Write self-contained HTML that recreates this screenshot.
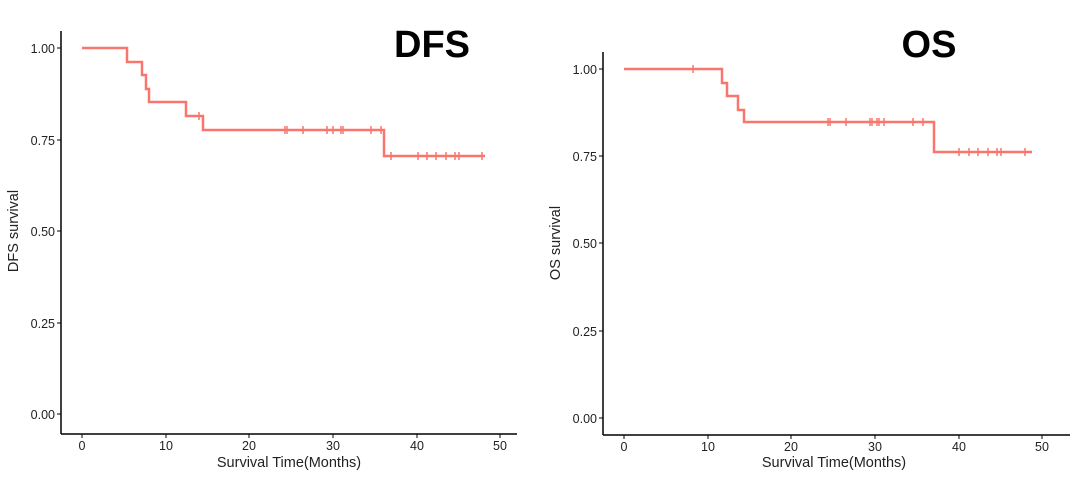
<!DOCTYPE html>
<html><head><style>
body{margin:0;background:#fff;}
svg text{font-family:"Liberation Sans",sans-serif;}
</style></head><body>
<svg width="1080" height="477" viewBox="0 0 1080 477" xmlns="http://www.w3.org/2000/svg">
<!-- DFS panel -->
<g>
  <line x1="61" y1="31" x2="61" y2="434" stroke="#000" stroke-width="1.5"/>
  <line x1="61" y1="434" x2="517" y2="434" stroke="#000" stroke-width="1.5"/>
  <g stroke="#000" stroke-width="1">
    <line x1="57" y1="48" x2="61" y2="48"/><line x1="57" y1="140" x2="61" y2="140"/>
    <line x1="57" y1="231" x2="61" y2="231"/><line x1="57" y1="323" x2="61" y2="323"/>
    <line x1="57" y1="414" x2="61" y2="414"/>
    <line x1="82" y1="434" x2="82" y2="438"/><line x1="166" y1="434" x2="166" y2="438"/>
    <line x1="249" y1="434" x2="249" y2="438"/><line x1="333" y1="434" x2="333" y2="438"/>
    <line x1="417" y1="434" x2="417" y2="438"/><line x1="500" y1="434" x2="500" y2="438"/>
  </g>
  <g font-size="12.5" fill="#222" text-anchor="end">
    <text x="55" y="53">1.00</text><text x="55" y="145">0.75</text><text x="55" y="236">0.50</text>
    <text x="55" y="328">0.25</text><text x="55" y="419">0.00</text>
  </g>
  <g font-size="12.5" fill="#222" text-anchor="middle">
    <text x="82" y="450">0</text><text x="166" y="450">10</text><text x="249" y="450">20</text>
    <text x="333" y="450">30</text><text x="417" y="450">40</text><text x="500" y="450">50</text>
  </g>
  <text x="289" y="467" font-size="14.5" text-anchor="middle" fill="#222">Survival Time(Months)</text>
  <text transform="translate(18,231) rotate(-90)" font-size="14.5" text-anchor="middle" fill="#222">DFS survival</text>
  <text x="432" y="57" font-size="38" font-weight="bold" text-anchor="middle" fill="#000">DFS</text>
  <path d="M82,48 H127 V62 H142 V75 H146 V89 H149 V102 H186 V116 H203 V130 H384 V156 H485" fill="none" stroke="#f8766d" stroke-width="2.5"/>
  <g stroke="#f8766d" stroke-width="1.5">
    <line x1="199" y1="112" x2="199" y2="120"/>
    <line x1="285" y1="126" x2="285" y2="134"/><line x1="287" y1="126" x2="287" y2="134"/>
    <line x1="303" y1="126" x2="303" y2="134"/><line x1="327" y1="126" x2="327" y2="134"/>
    <line x1="333" y1="126" x2="333" y2="134"/><line x1="341" y1="126" x2="341" y2="134"/>
    <line x1="343" y1="126" x2="343" y2="134"/><line x1="371" y1="126" x2="371" y2="134"/>
    <line x1="381" y1="126" x2="381" y2="134"/>
    <line x1="391" y1="152" x2="391" y2="160"/><line x1="418" y1="152" x2="418" y2="160"/>
    <line x1="427" y1="152" x2="427" y2="160"/><line x1="436" y1="152" x2="436" y2="160"/>
    <line x1="446" y1="152" x2="446" y2="160"/><line x1="455" y1="152" x2="455" y2="160"/>
    <line x1="459" y1="152" x2="459" y2="160"/><line x1="482" y1="152" x2="482" y2="160"/>
  </g>
</g>
<!-- OS panel -->
<g>
  <line x1="603" y1="52" x2="603" y2="435" stroke="#000" stroke-width="1.5"/>
  <line x1="603" y1="435" x2="1070" y2="435" stroke="#000" stroke-width="1.5"/>
  <g stroke="#000" stroke-width="1">
    <line x1="599" y1="69" x2="603" y2="69"/><line x1="599" y1="156" x2="603" y2="156"/>
    <line x1="599" y1="243" x2="603" y2="243"/><line x1="599" y1="331" x2="603" y2="331"/>
    <line x1="599" y1="418" x2="603" y2="418"/>
    <line x1="624" y1="435" x2="624" y2="439"/><line x1="708" y1="435" x2="708" y2="439"/>
    <line x1="791" y1="435" x2="791" y2="439"/><line x1="875" y1="435" x2="875" y2="439"/>
    <line x1="959" y1="435" x2="959" y2="439"/><line x1="1042" y1="435" x2="1042" y2="439"/>
  </g>
  <g font-size="12.5" fill="#222" text-anchor="end">
    <text x="597" y="74">1.00</text><text x="597" y="161">0.75</text><text x="597" y="248">0.50</text>
    <text x="597" y="336">0.25</text><text x="597" y="423">0.00</text>
  </g>
  <g font-size="12.5" fill="#222" text-anchor="middle">
    <text x="624" y="451">0</text><text x="708" y="451">10</text><text x="791" y="451">20</text>
    <text x="875" y="451">30</text><text x="959" y="451">40</text><text x="1042" y="451">50</text>
  </g>
  <text x="834" y="467" font-size="14.5" text-anchor="middle" fill="#222">Survival Time(Months)</text>
  <text transform="translate(560,243) rotate(-90)" font-size="14.5" text-anchor="middle" fill="#222">OS survival</text>
  <text x="929" y="57" font-size="38" font-weight="bold" text-anchor="middle" fill="#000">OS</text>
  <path d="M624,69 H722 V83 H727 V96 H738 V110 H744 V122 H934 V152 H1032" fill="none" stroke="#f8766d" stroke-width="2.5"/>
  <g stroke="#f8766d" stroke-width="1.5">
    <line x1="693" y1="65" x2="693" y2="73"/>
    <line x1="828" y1="118" x2="828" y2="126"/><line x1="830" y1="118" x2="830" y2="126"/>
    <line x1="846" y1="118" x2="846" y2="126"/><line x1="870" y1="118" x2="870" y2="126"/>
    <line x1="872" y1="118" x2="872" y2="126"/><line x1="877" y1="118" x2="877" y2="126"/>
    <line x1="879" y1="118" x2="879" y2="126"/><line x1="884" y1="118" x2="884" y2="126"/>
    <line x1="913" y1="118" x2="913" y2="126"/><line x1="923" y1="118" x2="923" y2="126"/>
    <line x1="959" y1="148" x2="959" y2="156"/><line x1="969" y1="148" x2="969" y2="156"/>
    <line x1="978" y1="148" x2="978" y2="156"/><line x1="988" y1="148" x2="988" y2="156"/>
    <line x1="997" y1="148" x2="997" y2="156"/><line x1="1001" y1="148" x2="1001" y2="156"/>
    <line x1="1025" y1="148" x2="1025" y2="156"/>
  </g>
</g>
</svg>
</body></html>
